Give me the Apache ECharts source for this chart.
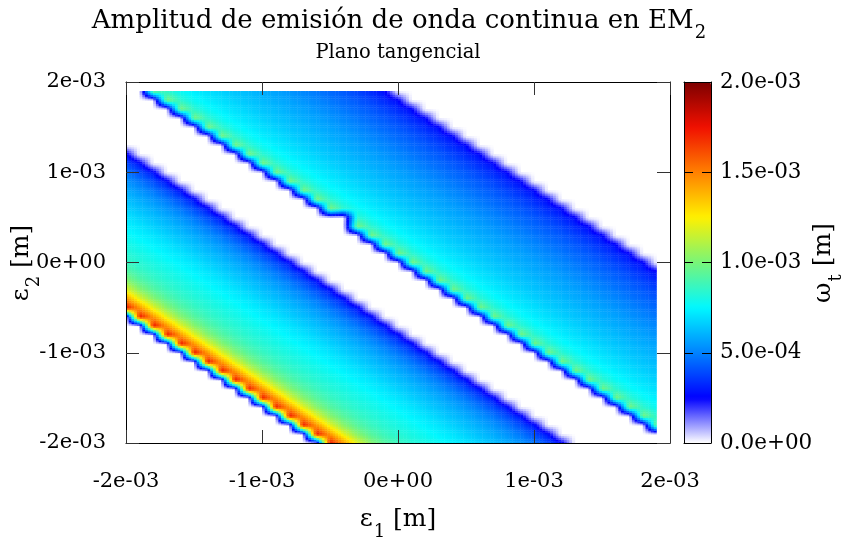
<!DOCTYPE html>
<html>
<head>
<meta charset="utf-8">
<script src="https://cdn.jsdelivr.net/npm/echarts@6/dist/echarts.min.js"></script>
<style>html,body{margin:0;padding:0;background:#fff}#c{width:841px;height:540px}</style>
</head>
<body>
<div id="c"></div>
<script>
// ---------------- data (values in units of 1e-3 m) ----------------
const UNIT = 1e-3;
const eps1Nodes = [-2.0,-1.9,-1.8,-1.7,-1.6,-1.5,-1.4,-1.3,-1.2,-1.1,-1.0,-0.9,-0.8,-0.7,-0.6,-0.5,-0.4,-0.3,-0.2,-0.1,
                   0.0,0.1,0.2,0.3,0.4,0.5,0.6,0.7,0.8,0.9,1.0,1.1,1.2,1.3,1.4,1.5,1.6,1.7,1.8,1.9];
const eps2Nodes = [-2.0,-1.9,-1.8,-1.7,-1.6,-1.5,-1.4,-1.3,-1.2,-1.1,-1.0,-0.9,-0.8,-0.7,-0.6,-0.5,-0.4,-0.3,-0.2,-0.1,
                   0.0,0.1,0.2,0.3,0.4,0.5,0.6,0.7,0.8,0.9,1.0,1.1,1.2,1.3,1.4,1.5,1.6,1.7,1.8,1.9];
// amplitude along each anti-diagonal (node index i+j = 0..78)
const bandProfile = [
  0,0,0,0,0,0,0,0,0,0,                                 // 0-9
  0,0,0,0,0,1.75,1.45,1.20,1.03,0.93,                  // 10-19
  0.87,0.83,0.80,0.77,0.74,0.71,0.67,0.63,0.59,0.54,   // 20-29
  0.48,0.40,0.29,0,0,0,0,0,0,0,                        // 30-39
  0,1.00,0.84,0.77,0.73,0.70,0.67,0.64,0.62,0.59,      // 40-49
  0.57,0.54,0.51,0.48,0.45,0.42,0.38,0.33,0.27,0,      // 50-59
  0,0,0,0,0,0,0,0,0,0,                                 // 60-69
  0,0,0,0,0,0,0,0,0                                    // 70-78
];
// individual nodes that deviate from the diagonal pattern: [i, j, value]
const nodeOverrides = [[16, 25, 0]];
const xTickLabels = ['-2e-03','-1e-03','0e+00','1e-03','2e-03'];
const yTickLabels = ['-2e-03','-1e-03','0e+00','1e-03','2e-03'];
const cbTickLabels = ['0.0e+00','5.0e-04','1.0e-03','1.5e-03','2.0e-03'];
const cbColors = ['#ffffff','#0000ff','#0082ff','#00f8ff','#78f578','#fff000','#ff8000','#f01000','#7c0000'];

// ---------------- build cells ----------------
const NI = eps1Nodes.length, NJ = eps2Nodes.length;
const V = [];
for (let i = 0; i < NI; i++) { V.push([]); for (let j = 0; j < NJ; j++) V[i].push(bandProfile[i + j] * UNIT); }
nodeOverrides.forEach(([i, j, v]) => { V[i][j] = v * UNIT; });

const SUB = 5;
const cells = [];
for (let i = 0; i < NI - 1; i++) {
  for (let j = 0; j < NJ - 1; j++) {
    const v00 = V[i][j], v10 = V[i+1][j], v01 = V[i][j+1], v11 = V[i+1][j+1];
    if (v00 === 0 && v10 === 0 && v01 === 0 && v11 === 0) continue;
    const x0 = eps1Nodes[i]*UNIT, x1 = eps1Nodes[i+1]*UNIT;
    const y0 = eps2Nodes[j]*UNIT, y1 = eps2Nodes[j+1]*UNIT;
    for (let a = 0; a < SUB; a++) {
      for (let b = 0; b < SUB; b++) {
        const u = (a + 0.5) / SUB, w = (b + 0.5) / SUB;
        const val = (1-u)*(1-w)*v00 + u*(1-w)*v10 + (1-u)*w*v01 + u*w*v11;
        cells.push([x0 + (x1-x0)*a/SUB, y0 + (y1-y0)*b/SUB, x0 + (x1-x0)*(a+1)/SUB, y0 + (y1-y0)*(b+1)/SUB, val]);
      }
    }
  }
}

// ---------------- chart ----------------
const F = "'DejaVu Serif', 'Liberation Serif', serif";
const chart = echarts.init(document.getElementById('c'), null, {renderer: 'canvas'});
const labelFrom = (labels, min, step) => (v) => { const k = Math.round((v - min) / step); return labels[k] !== undefined ? labels[k] : ''; };

const mainAxis = (extra) => Object.assign({
  type: 'value', min: -0.002, max: 0.002, interval: 0.001, gridIndex: 0, z: 10,
  splitLine: {show: false},
  axisLine: {show: true, onZero: false, lineStyle: {color: '#000', width: 1}},
  axisTick: {show: true, inside: true, length: 13, lineStyle: {color: '#333', width: 1}},
  axisLabel: {show: false}
}, extra);

const cbAxisY = (extra) => Object.assign({
  type: 'value', min: 0, max: 0.002, interval: 0.0005, gridIndex: 1, z: 10,
  splitLine: {show: false},
  axisLine: {show: true, onZero: false, lineStyle: {color: '#000', width: 1}},
  axisTick: {show: true, inside: true, length: 9, lineStyle: {color: '#000', width: 1}},
  axisLabel: {show: false}
}, extra);
const cbAxisX = (pos) => ({
  type: 'value', min: 0, max: 1, gridIndex: 1, position: pos, z: 10,
  splitLine: {show: false},
  axisLine: {show: true, onZero: false, lineStyle: {color: '#000', width: 1}},
  axisTick: {show: false}, axisLabel: {show: false}
});

const richT = (big, small, lh, pad) => ({
  a: {fontFamily: F, fontSize: big, lineHeight: lh, verticalAlign: 'top', fill: '#000'},
  s: {fontFamily: F, fontSize: small, lineHeight: small, padding: [pad, 0, 0, 1], verticalAlign: 'top', fill: '#000'}
});

chart.setOption({
  animation: false,
  backgroundColor: '#fff',
  grid: [
    {left: 126, top: 82, width: 544, height: 361},
    {left: 684, top: 82, width: 27, height: 361}
  ],
  xAxis: [
    mainAxis({position: 'bottom', axisLabel: {show: true, formatter: labelFrom(xTickLabels, -0.002, 0.001), fontFamily: F, fontSize: 21, color: '#000', margin: 28}}),
    mainAxis({position: 'top'}),
    cbAxisX('bottom'),
    cbAxisX('top')
  ],
  yAxis: [
    mainAxis({position: 'left', axisLabel: {show: true, formatter: labelFrom(yTickLabels, -0.002, 0.001), fontFamily: F, fontSize: 21, color: '#000', margin: 20}}),
    mainAxis({position: 'right'}),
    cbAxisY({position: 'left'}),
    cbAxisY({position: 'right', axisLabel: {show: true, formatter: labelFrom(cbTickLabels, 0, 0.0005), fontFamily: F, fontSize: 21.5, color: '#000', margin: 9}})
  ],
  visualMap: {
    type: 'continuous', min: 0, max: 0.002, dimension: 4, seriesIndex: 0,
    inRange: {color: cbColors}, calculable: false, show: true, orient: 'vertical',
    left: 684, top: 82, itemWidth: 27, itemHeight: 361, padding: 0, z: 1, hoverLink: false
  },
  series: [{
    type: 'custom', xAxisIndex: 0, yAxisIndex: 0, data: cells, z: 2,
    progressive: 0, progressiveThreshold: 1e9,
    encode: {x: [0, 2], y: [1, 3]},
    renderItem: (params, api) => {
      const p0 = api.coord([api.value(0), api.value(3)]);
      const p1 = api.coord([api.value(2), api.value(1)]);
      return {type: 'rect', shape: {x: p0[0], y: p0[1], width: p1[0] - p0[0] + 0.4, height: p1[1] - p0[1] + 0.4},
              style: {fill: api.visual('color')}};
    }
  }],
  graphic: [
    {type: 'text', x: 399, y: 23, z: 100, style: {text: '{a|Amplitud de emisión de onda continua en EM}{s|2}', rich: richT(26, 18, 30, 16), align: 'center', verticalAlign: 'middle'}},
    {type: 'text', x: 398, y: 53, z: 100, style: {text: 'Plano tangencial', fontFamily: F, fontSize: 19.5, fill: '#000', align: 'center', verticalAlign: 'middle'}},
    {type: 'text', x: 398, y: 522, z: 100, style: {text: '{a|ε}{s|1}{a| [m]}', rich: richT(25, 18, 30, 16), align: 'center', verticalAlign: 'middle'}},
    {type: 'text', x: 24, y: 263, rotation: Math.PI / 2, z: 100, style: {text: '{a|ε}{s|2}{a| [m]}', rich: richT(25, 18, 30, 16), align: 'center', verticalAlign: 'middle'}},
    {type: 'text', x: 826, y: 263, rotation: Math.PI / 2, z: 100, style: {text: '{a|ω}{s|t}{a| [m]}', rich: richT(25, 18, 30, 16), align: 'center', verticalAlign: 'middle'}}
  ]
});
</script>
</body>
</html>
